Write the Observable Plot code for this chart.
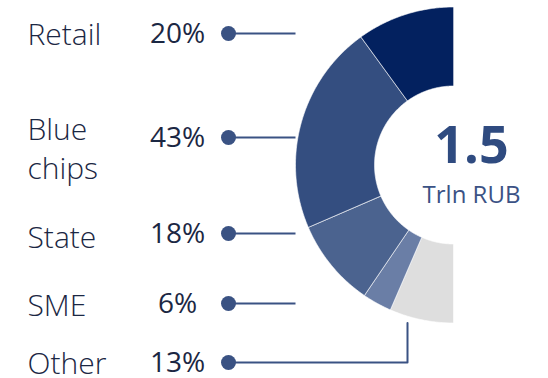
<!DOCTYPE html>
<html>
<head>
<meta charset="utf-8">
<script src="https://cdn.jsdelivr.net/npm/d3@7"></script>
<script src="https://cdn.jsdelivr.net/npm/@observablehq/plot@0.6"></script>
<style>
  html, body { margin: 0; padding: 0; background: #ffffff; }
  #chart svg { display: block; }
</style>
</head>
<body>
<div id="chart"></div>
<script>
// ---- data ----
const categories = ["Retail", "Blue chips", "State", "SME", "Other"];
const labels = ["Retail", "Blue\nchips", "State", "SME", "Other"];
const shares = [20, 43, 18, 6, 13];
const totalValue = "1.5";
const totalUnit = "Trln RUB";

// ---- styles / layout ----
const palette = ["#03215f", "#344e80", "#4b638f", "#6a7ea6", "#dedede"];
const W = 548, H = 378;
const cx = 453, cy = 164.5, R = 158, r = 79;
const rowY = [33, 137, 233, 303, 362];
const labelY = [32, 146.5, 235, 303, 361];
const font = "Open Sans, Noto Sans, sans-serif";
const ink = "#1b2743";
const lineColor = "#3a5283";

// half-donut polygons, angle in degrees from 12 o'clock going counter-clockwise
const pts = [];
let cum = 0;
categories.forEach((name, i) => {
  const a0 = cum / 100 * 180, a1 = (cum + shares[i]) / 100 * 180;
  cum += shares[i];
  const n = Math.max(2, Math.ceil((a1 - a0) / 0.5));
  const P = (rad, a) => {
    const t = a * Math.PI / 180;
    return {name, x: cx - rad * Math.sin(t), y: cy - rad * Math.cos(t)};
  };
  for (let k = 0; k <= n; k++) pts.push(P(R, a0 + (a1 - a0) * k / n));
  for (let k = n; k >= 0; k--) pts.push(P(r, a0 + (a1 - a0) * k / n));
});

const rows = categories.map((name, i) => ({
  name, label: labels[i], pct: shares[i] + "%", y: rowY[i], ly: labelY[i]
}));
const straight = rows.filter(d => d.name !== "Other");
const otherRow = rows.find(d => d.name === "Other");
const otherLeader = [
  {x: 228, y: otherRow.y}, {x: 407, y: otherRow.y}, {x: 407, y: cy + R}
];

const chart = Plot.plot({
  width: W, height: H, margin: 0,
  x: {domain: [0, W], range: [0, W], axis: null},
  y: {domain: [0, H], range: [0, H], axis: null},
  color: {domain: categories, range: palette},
  style: {background: "#ffffff", fontFamily: font},
  marks: [
    Plot.line(pts, {x: "x", y: "y", z: "name", fill: "name", stroke: "#ffffff",
      strokeWidth: 0.6, curve: "linear-closed"}),
    Plot.link(straight, {x1: 228, x2: 295, y1: "y", y2: "y", stroke: lineColor, strokeWidth: 2}),
    Plot.line(otherLeader, {x: "x", y: "y", stroke: lineColor, strokeWidth: 2}),
    Plot.dot(rows, {x: 228, y: "y", r: 7.5, fill: lineColor, stroke: "none"}),
    Plot.text(rows, {x: 27, y: "ly", text: "label", textAnchor: "start", fontSize: 30,
      lineHeight: 1.3, fill: ink, fontWeight: 300}),
    Plot.text(rows, {x: 177, y: d => d.y + 1, text: "pct", textAnchor: "middle", fontSize: 28,
      fill: ink, fontWeight: 500}),
    Plot.text([totalValue], {x: 471, y: 146, text: d => d, textAnchor: "middle", fontSize: 52,
      fontWeight: 700, fill: "#2f4b80"}),
    Plot.text([totalUnit], {x: 471, y: 195, text: d => d, textAnchor: "middle", fontSize: 24,
      fontWeight: 400, fill: "#3b5285"})
  ]
});
document.getElementById("chart").appendChild(chart);
</script>
</body>
</html>
